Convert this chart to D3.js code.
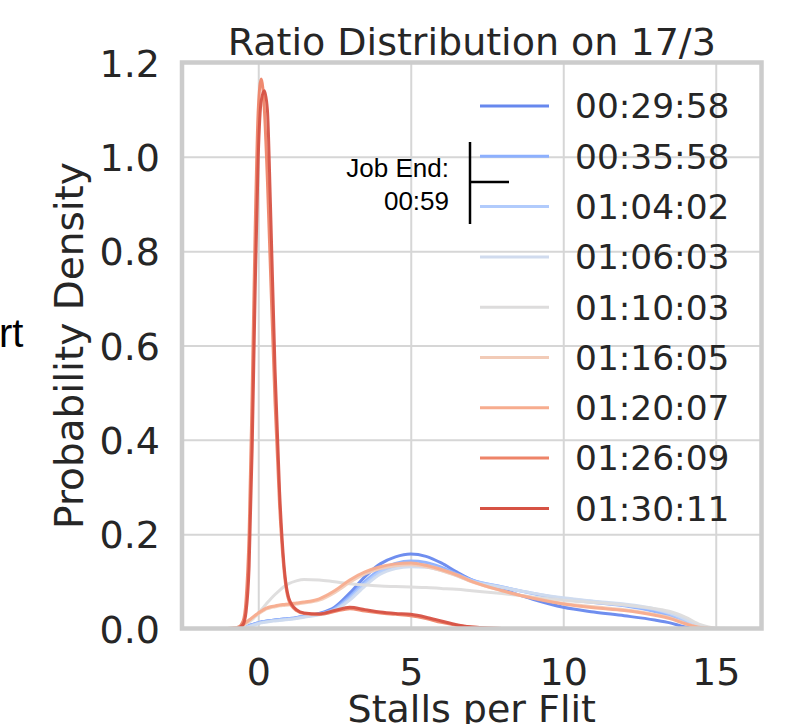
<!DOCTYPE html>
<html>
<head>
<meta charset="utf-8">
<title>Ratio Distribution on 17/3</title>
<script src="https://cdn.jsdelivr.net/npm/d3@7"></script>
<style>
  body { margin: 0; background: white; }
  svg { display: block; }
  text { font-family: 'DejaVu Sans', sans-serif; fill: #262626; }
  .note { font-family: 'Liberation Sans', Arial, sans-serif; fill: #000; }
  .grid line { stroke: #d6d6d6; stroke-width: 2; }
  .grid .domain { display: none; }
</style>
</head>
<body>
<svg id="chart"></svg>
<script>
// sample points on the Stalls per Flit axis (denser around the spike at 0)
var xs = [-1.5, -1, -0.7, -0.5, -0.4, -0.3, -0.2, -0.1, 0, 0.1, 0.2, 0.3, 0.4, 0.55, 0.7, 0.85, 1, 1.25, 1.5,
  2, 2.5, 3, 3.5, 4, 4.5, 5, 5.5, 6, 6.5, 7, 8, 9, 10, 11, 12, 13, 13.5, 14, 14.5, 15, 16];

var times = ["00:29:58", "00:35:58", "01:04:02", "01:06:03", "01:10:03", "01:16:05", "01:20:07", "01:26:09", "01:30:11"];

// density values
var d0029 = [0, 0, 0, 0.001, 0.003, 0.006, 0.008, 0.01, 0.012, 0.014, 0.015, 0.016, 0.017, 0.018, 0.019, 0.02, 0.021, 0.023, 0.026,
  0.032, 0.045, 0.075, 0.11, 0.137, 0.152, 0.158, 0.153, 0.139, 0.12, 0.103, 0.083, 0.062, 0.045, 0.035, 0.027, 0.018, 0.012, 0.003, 0, 0, 0];
var d0035 = [0, 0, 0, 0.001, 0.003, 0.006, 0.008, 0.01, 0.012, 0.014, 0.015, 0.016, 0.017, 0.018, 0.019, 0.02, 0.021, 0.023, 0.026,
  0.031, 0.042, 0.068, 0.1, 0.125, 0.138, 0.143, 0.14, 0.13, 0.116, 0.103, 0.088, 0.074, 0.062, 0.055, 0.048, 0.036, 0.027, 0.013, 0.003, 0, 0];
var d0104 = [0, 0, 0, 0.001, 0.003, 0.005, 0.007, 0.009, 0.011, 0.013, 0.014, 0.015, 0.016, 0.017, 0.018, 0.019, 0.02, 0.022, 0.025,
  0.03, 0.04, 0.064, 0.095, 0.12, 0.132, 0.136, 0.134, 0.126, 0.114, 0.102, 0.088, 0.075, 0.064, 0.057, 0.05, 0.04, 0.031, 0.017, 0.004, 0, 0];
var d0106 = [0, 0, 0, 0.001, 0.002, 0.004, 0.006, 0.008, 0.01, 0.012, 0.013, 0.014, 0.015, 0.016, 0.017, 0.018, 0.019, 0.021, 0.024,
  0.029, 0.038, 0.06, 0.09, 0.115, 0.127, 0.131, 0.13, 0.123, 0.112, 0.1, 0.087, 0.075, 0.065, 0.058, 0.052, 0.042, 0.033, 0.02, 0.005, 0, 0];
var d0110 = [0, 0, 0.002, 0.006, 0.01, 0.014, 0.019, 0.025, 0.032, 0.04, 0.047, 0.055, 0.062, 0.072, 0.081, 0.089, 0.095, 0.101, 0.104,
  0.103, 0.099, 0.095, 0.092, 0.09, 0.089, 0.088, 0.087, 0.085, 0.083, 0.08, 0.074, 0.067, 0.06, 0.055, 0.05, 0.042, 0.036, 0.024, 0.008, 0.001, 0];
var d0116 = [0, 0, 0.002, 0.007, 0.012, 0.017, 0.022, 0.027, 0.031, 0.035, 0.039, 0.042, 0.044, 0.046, 0.048, 0.049, 0.05, 0.052, 0.054,
  0.06, 0.076, 0.098, 0.116, 0.127, 0.133, 0.135, 0.131, 0.123, 0.112, 0.099, 0.08, 0.065, 0.053, 0.046, 0.04, 0.03, 0.023, 0.011, 0.002, 0, 0];
var d0120 = [0, 0, 0.002, 0.008, 0.013, 0.018, 0.023, 0.028, 0.033, 0.037, 0.041, 0.044, 0.046, 0.048, 0.05, 0.051, 0.052, 0.054, 0.056,
  0.063, 0.08, 0.103, 0.12, 0.131, 0.137, 0.139, 0.134, 0.125, 0.114, 0.1, 0.08, 0.064, 0.052, 0.044, 0.038, 0.028, 0.021, 0.01, 0.002, 0, 0];
var d0126 = [0, 0, 0.001, 0.015, 0.06, 0.2, 0.5, 0.85, 1.1, 1.165, 1.1, 0.95, 0.76, 0.48, 0.26, 0.12, 0.06, 0.038, 0.032,
  0.03, 0.036, 0.042, 0.037, 0.033, 0.03, 0.027, 0.021, 0.013, 0.007, 0.003, 0, 0, 0, 0, 0, 0, 0, 0, 0, 0, 0];
var d0130 = [0, 0, 0, 0.008, 0.035, 0.13, 0.38, 0.72, 1.0, 1.12, 1.14, 1.1, 0.9, 0.55, 0.29, 0.13, 0.065, 0.04, 0.033,
  0.031, 0.038, 0.045, 0.04, 0.035, 0.032, 0.03, 0.024, 0.016, 0.008, 0.003, 0, 0, 0, 0, 0, 0, 0, 0, 0, 0, 0];

var densities = [d0029, d0035, d0104, d0106, d0110, d0116, d0120, d0126, d0130];

var xTicks = [0, 5, 10, 15];
var yTicks = [0, 0.2, 0.4, 0.6, 0.8, 1.0, 1.2];

// coolwarm, 9 steps
var palette = ["#6788ee", "#8db0fe", "#b1cbfc", "#d0dbee", "#dddcdc", "#f2cbb7", "#f7ac8e", "#ee8468", "#d65244"];

var width = 796, height = 724;
var plotLeft = 182, plotRight = 761.5, plotTop = 62.5, plotBottom = 628.5;

var svg = d3.select("#chart").attr("width", width).attr("height", height);

var x = d3.scaleLinear().domain([-2.5, 16.5]).range([plotLeft, plotRight]);
var y = d3.scaleLinear().domain([0, 1.2]).range([plotBottom, plotTop]);

// axes double as grid lines
var xAxis = svg.append("g")
  .attr("class", "grid")
  .attr("transform", `translate(0,${plotBottom})`)
  .call(d3.axisBottom(x).tickValues(xTicks).tickFormat(d3.format("d"))
    .tickSize(-(plotBottom - plotTop)).tickPadding(29.5));
xAxis.selectAll("text").style("font-size", "38px");

var yAxis = svg.append("g")
  .attr("class", "grid")
  .attr("transform", `translate(${plotLeft},0)`)
  .call(d3.axisLeft(y).tickValues(yTicks).tickFormat(d3.format(".1f"))
    .tickSize(-(plotRight - plotLeft)).tickPadding(22));
yAxis.selectAll("text").style("font-size", "38px").attr("dy", "0.36em");

svg.append("clipPath").attr("id", "plot-area")
  .append("rect").attr("x", plotLeft).attr("y", plotTop)
  .attr("width", plotRight - plotLeft).attr("height", plotBottom - plotTop);

var line = d3.line()
  .x(d => x(d[0]))
  .y(d => y(d[1]))
  .curve(d3.curveMonotoneX);

svg.append("g")
  .attr("clip-path", "url(#plot-area)")
  .selectAll("path")
  .data(densities)
  .enter().append("path")
  .attr("d", d => line(xs.map((v, i) => [v, d[i]])))
  .attr("fill", "none")
  .attr("stroke", (d, i) => palette[i])
  .attr("stroke-width", 3)
  .attr("stroke-opacity", 0.95);

// frame
svg.append("rect")
  .attr("x", plotLeft).attr("y", plotTop)
  .attr("width", plotRight - plotLeft).attr("height", plotBottom - plotTop)
  .attr("fill", "none")
  .attr("stroke", "#cccccc")
  .attr("stroke-width", 4.5);

// legend
var legend = svg.append("g").selectAll("g")
  .data(times)
  .enter().append("g")
  .attr("transform", (d, i) => `translate(480,${106 + i * 50.3})`);

legend.append("line")
  .attr("x1", 0).attr("x2", 69)
  .attr("stroke", (d, i) => palette[i])
  .attr("stroke-width", 3);

legend.append("text")
  .attr("x", 95)
  .attr("dy", "0.36em")
  .style("font-size", "34.4px")
  .text(d => d);

// titles
svg.append("text")
  .attr("x", (plotLeft + plotRight) / 2).attr("y", 55)
  .attr("text-anchor", "middle")
  .style("font-size", "38px")
  .text("Ratio Distribution on 17/3");

svg.append("text")
  .attr("x", (plotLeft + plotRight) / 2).attr("y", 722)
  .attr("text-anchor", "middle")
  .style("font-size", "38px")
  .text("Stalls per Flit");

svg.append("text")
  .attr("transform", `translate(83,${(plotTop + plotBottom) / 2}) rotate(-90)`)
  .attr("text-anchor", "middle")
  .style("font-size", "39px")
  .text("Probability Density");

// job end marker
svg.append("text").attr("class", "note")
  .attr("x", 449).attr("y", 177)
  .attr("text-anchor", "end")
  .style("font-size", "26px")
  .text("Job End:");
svg.append("text").attr("class", "note")
  .attr("x", 449).attr("y", 210)
  .attr("text-anchor", "end")
  .style("font-size", "26px")
  .text("00:59");
svg.append("line")
  .attr("x1", 470).attr("x2", 470).attr("y1", 142).attr("y2", 224)
  .attr("stroke", "#000").attr("stroke-width", 2.5);
svg.append("line")
  .attr("x1", 470).attr("x2", 509).attr("y1", 182).attr("y2", 182)
  .attr("stroke", "#000").attr("stroke-width", 2.5);

// clipped label fragment at the left edge
svg.append("text").attr("class", "note")
  .attr("x", -1).attr("y", 347)
  .style("font-size", "40px")
  .text("rt");
</script>
</body>
</html>
